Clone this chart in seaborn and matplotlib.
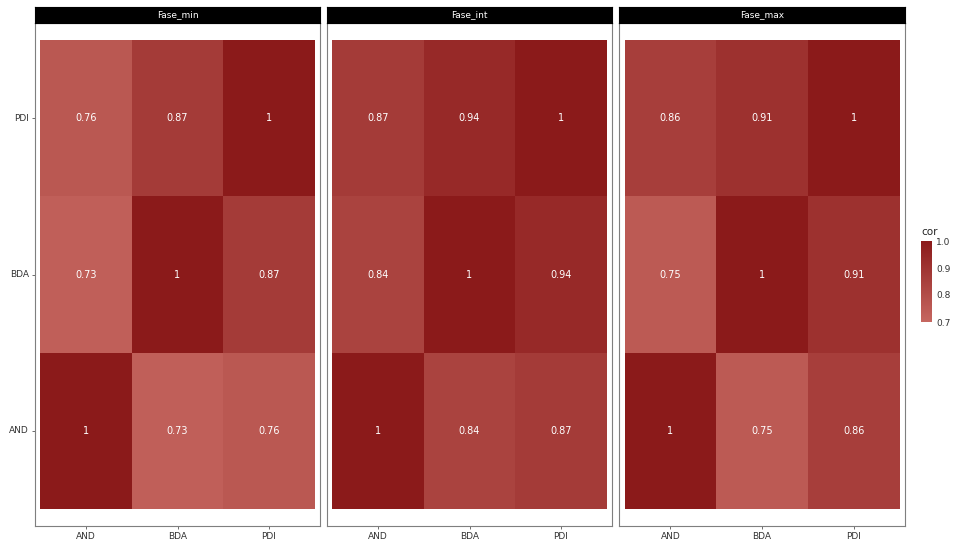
import matplotlib
matplotlib.use("Agg")
import matplotlib.pyplot as plt
from matplotlib.colors import LinearSegmentedColormap
import numpy as np
import pandas as pd
import seaborn as sns

sns.set_style("white")
plt.rcParams["font.family"] = ["DejaVu Sans"]

# Correlation matrices per phase (rows/cols in order AND, BDA, PDI)
variables = ["AND", "BDA", "PDI"]
phases = ["Fase_min", "Fase_int", "Fase_max"]
cor_min = [[1.00, 0.73, 0.76],
           [0.73, 1.00, 0.87],
           [0.76, 0.87, 1.00]]
cor_int = [[1.00, 0.84, 0.87],
           [0.84, 1.00, 0.94],
           [0.87, 0.94, 1.00]]
cor_max = [[1.00, 0.75, 0.86],
           [0.75, 1.00, 0.91],
           [0.86, 0.91, 1.00]]
cbar_ticks = [0.7, 0.8, 0.9, 1.0]

matrices = dict(zip(phases, [cor_min, cor_int, cor_max]))

cmap = LinearSegmentedColormap.from_list("reds", ["#C66760", "#8B1A1A"])

W, H = 959, 554
fig = plt.figure(figsize=(W / 100, H / 100), dpi=100)


def box(x0, y0, x1, y1):
    return [x0 / W, 1 - y1 / H, (x1 - x0) / W, (y1 - y0) / H]


panel_x = [(35, 320), (327, 612), (619, 905)]
strip_top, panel_top, panel_bottom = 7, 23, 526

for i, (phase, (x0, x1)) in enumerate(zip(phases, panel_x)):
    ax = fig.add_axes(box(x0, panel_top, x1, panel_bottom))
    m = pd.DataFrame(matrices[phase], index=variables, columns=variables)
    m = m.iloc[::-1]  # PDI on top, AND at bottom
    sns.heatmap(m, ax=ax, cmap=cmap, vmin=0.7, vmax=1.0, cbar=False,
                annot=True, fmt="g",
                annot_kws={"color": "white", "size": 7})
    ax.set_xlim(-0.06, 3.06)
    ax.set_ylim(3.11, -0.11)
    for s in ax.spines.values():
        s.set_visible(True)
        s.set_color("#7f7f7f")
        s.set_linewidth(0.8)
    ax.tick_params(axis="both", length=2.5, width=0.6, color="#555555",
                   labelsize=6.5, labelcolor="#333333", pad=2,
                   bottom=True, left=(i == 0))
    ax.set_xticklabels(variables, rotation=0)
    if i == 0:
        ax.set_yticklabels(list(m.index), rotation=0)
    else:
        ax.set_yticklabels([])
    ax.set_xlabel("")
    ax.set_ylabel("")

    # facet strip
    sax = fig.add_axes(box(x0, strip_top, x1, panel_top))
    sax.set_facecolor("black")
    sax.set_xticks([])
    sax.set_yticks([])
    for s in sax.spines.values():
        s.set_color("black")
    sax.text(0.5, 0.5, phase, color="white", fontsize=6.5,
             ha="center", va="center", transform=sax.transAxes)

# colour bar legend
cax = fig.add_axes(box(921, 241, 932, 322))
sm = plt.cm.ScalarMappable(cmap=cmap, norm=plt.Normalize(0.7, 1.0))
cb = fig.colorbar(sm, cax=cax, ticks=cbar_ticks)
cb.outline.set_visible(False)
cb.ax.set_yticklabels([f"{t:.1f}" for t in cbar_ticks])
cb.ax.tick_params(labelsize=6.5, length=0, pad=3, labelcolor="#333333")
fig.text(921 / W, 1 - 232 / H, "cor", fontsize=7.5, color="#222222",
         ha="left", va="center")

fig.savefig("out.png", dpi=100, facecolor="white")
